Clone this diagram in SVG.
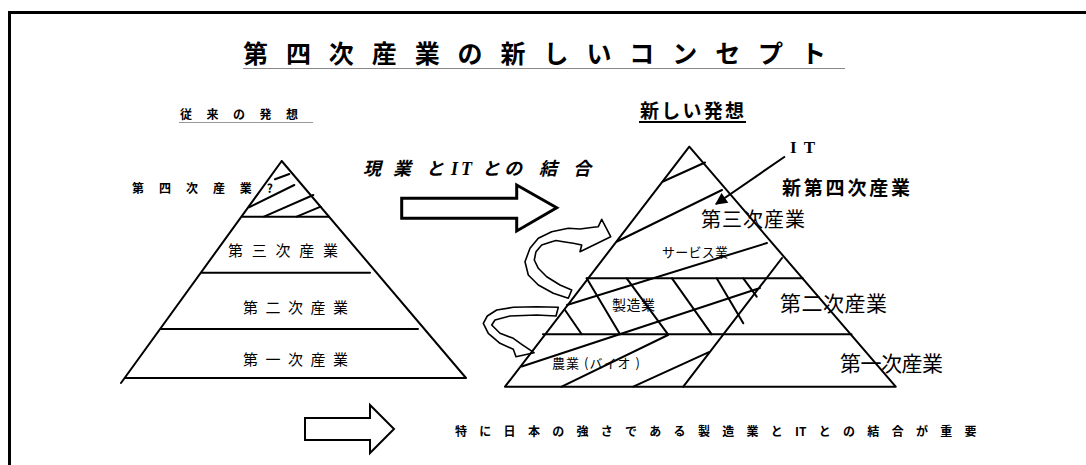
<svg xmlns="http://www.w3.org/2000/svg" width="1086" height="465" viewBox="0 0 1086 465">
<defs>
<style>
.jp{font-family:"Noto Sans CJK JP","Liberation Sans",sans-serif;fill:#000}
.b{font-weight:bold}
.ln{stroke:#000;stroke-width:2;fill:none;stroke-linecap:round}
.th{stroke:#000;stroke-width:1.6;fill:none;stroke-linejoin:round}
</style>
<marker id="ah" viewBox="0 0 10 10" refX="9" refY="5" markerWidth="7" markerHeight="6" orient="auto" markerUnits="strokeWidth">
<path d="M0,0 L10,5 L0,10 Z" fill="#000"/>
</marker>
</defs>
<rect width="1086" height="465" fill="#fff"/>
<path d="M9.5,465 V12.5 H1086" stroke="#000" stroke-width="3" fill="none"/>

<g id="title">
<text class="jp b" x="243" y="63" font-size="25" textLength="583" lengthAdjust="spacing">第四次産業の新しいコンセプト</text>
<line x1="243" y1="68.5" x2="845" y2="68.5" stroke="#888" stroke-width="1"/>
</g>

<g id="old-label">
<text class="jp b" x="180" y="119" font-size="12" textLength="118" lengthAdjust="spacing">従来の発想</text>
<line x1="179" y1="122.5" x2="313" y2="122.5" stroke="#999" stroke-width="1"/>
</g>

<g id="new-label">
<text class="jp b" x="640" y="118" font-size="19" textLength="104" lengthAdjust="spacing">新しい発想</text>
<line x1="639" y1="122" x2="746" y2="122" stroke="#000" stroke-width="2"/>
</g>

<g id="old-pyramid">
<path class="ln" d="M281.7,161 L121,383 M281.7,161 L466,378 M125,378 H466"/>
<path class="ln" d="M242.7,216.7 H329 M201.7,272.7 H370 M161,329 H418"/>
<path class="ln" d="M275,179.3 L289.3,174 M249,207.3 L294.3,185 M264,216.7 L313.3,195 M296.7,216.7 L320.7,206.7"/>
<text class="jp b" x="132" y="193" font-size="12" textLength="141" lengthAdjust="spacing">第四次産業?</text>
<text class="jp" x="228" y="256" font-size="15" textLength="110" lengthAdjust="spacing">第三次産業</text>
<text class="jp" x="243" y="313" font-size="15" textLength="105" lengthAdjust="spacing">第二次産業</text>
<text class="jp" x="243" y="365" font-size="15" textLength="105" lengthAdjust="spacing">第一次産業</text>
</g>

<g id="combine-label">
<text class="jp b" y="175" font-size="18" font-style="italic"><tspan x="363">現</tspan><tspan x="393">業</tspan><tspan x="426">と</tspan><tspan x="451" font-family="Liberation Serif">I</tspan><tspan x="461" font-family="Liberation Serif">T</tspan><tspan x="482">と</tspan><tspan x="504">の</tspan><tspan x="539">結</tspan><tspan x="573">合</tspan></text>
</g>

<g id="big-arrow">
<polygon points="401.7,198.3 516.7,198.3 516.7,185 556.7,207.7 516.7,231 516.7,218.3 401.7,218.3" fill="#fff" stroke="#000" stroke-width="3" stroke-linejoin="miter"/>
</g>

<g id="loop-arrows">
<path class="th" d="M601.7,219.3 L610.7,236.7 L580,251.7 L581.7,245 L573.3,243.3 L563.3,241.7 L556,240.5 L551.7,241.7 L541.7,245 L536,251.7 L534.3,260 L538.3,268.3 L546.7,276.7 L560,285 L571.7,290 L568.3,298.3 L553.3,293.3 L538.3,285 L528.3,275 L525,261.7 L530,248.3 L538.3,238.3 L551.7,231.7 L568.3,228.3 L580,229 L593.3,227.3 L598.3,226.7 Z"/>
<path class="th" d="M521.7,344.3 L534,352.7 L516,356.7 L513.3,349.3 L500,343.3 L488.3,333.3 L483.3,323.3 L487.3,316 L496.7,310 L513.3,307.3 L536.7,306.7 L558.3,307.3 L556,316 L536.7,315 L510,316 L495,320 L491.7,325 L500,333.3 L513.3,338.3 Z"/>
</g>

<g id="new-pyramid">
<path class="ln" d="M689.3,146.7 L505,386.7 M689.3,146.7 L895.7,386.7 M505,386.7 H895.7"/>
<path class="ln" d="M586.7,278.3 H802.8 M543,334.3 H851.5"/>
<path class="ln" d="M663,181.5 L705,162.5 M617,241.5 L722,190 M567,305 L767,243 M521.7,366.5 L760,288 M561.7,386.7 L668,335 M633.3,386.7 L710,351.7 M782,258 L683.3,386.7"/>
<path class="ln" d="M586.7,278.3 L620,334.3 M626.7,278.3 L668,334.3 M672,278.3 L711.7,334.3 M716.7,278.3 L743.3,323.3 M743.3,278.3 L756.7,296.7 M565,310 L581.7,334.3"/>
<text class="jp" x="701" y="227" font-size="20" textLength="104" lengthAdjust="spacing">第三次産業</text>
<text class="jp" x="662" y="257" font-size="13" textLength="66" lengthAdjust="spacing">サービス業</text>
<text class="jp" x="612" y="310" font-size="14" textLength="43" lengthAdjust="spacing">製造業</text>
<text class="jp" x="552" y="368" font-size="13" textLength="88" lengthAdjust="spacing">農業 (バイオ )</text>
<text class="jp" x="780" y="311" font-size="21" textLength="107" lengthAdjust="spacing">第二次産業</text>
<text class="jp" x="840" y="371" font-size="21" textLength="103" lengthAdjust="spacing">第一次産業</text>
</g>

<g id="it-label">
<text x="790" y="153" font-family="Liberation Serif" font-weight="bold" font-size="17" textLength="25" lengthAdjust="spacing">IT</text>
<line x1="785" y1="156.5" x2="716" y2="204" stroke="#000" stroke-width="2" marker-end="url(#ah)"/>
<text class="jp b" x="782" y="195" font-size="19" textLength="128" lengthAdjust="spacing">新第四次産業</text>
</g>

<g id="bottom-note">
<polygon points="305,418 370,418 370,405 394,429 370,453 370,440 305,440" fill="#fff" stroke="#000" stroke-width="2"/>
<text class="jp b" x="455" y="436" font-size="12" letter-spacing="12.3">特に日本の強さである製造業と<tspan letter-spacing="0">I</tspan>Tとの結合が重要</text>
</g>
</svg>
